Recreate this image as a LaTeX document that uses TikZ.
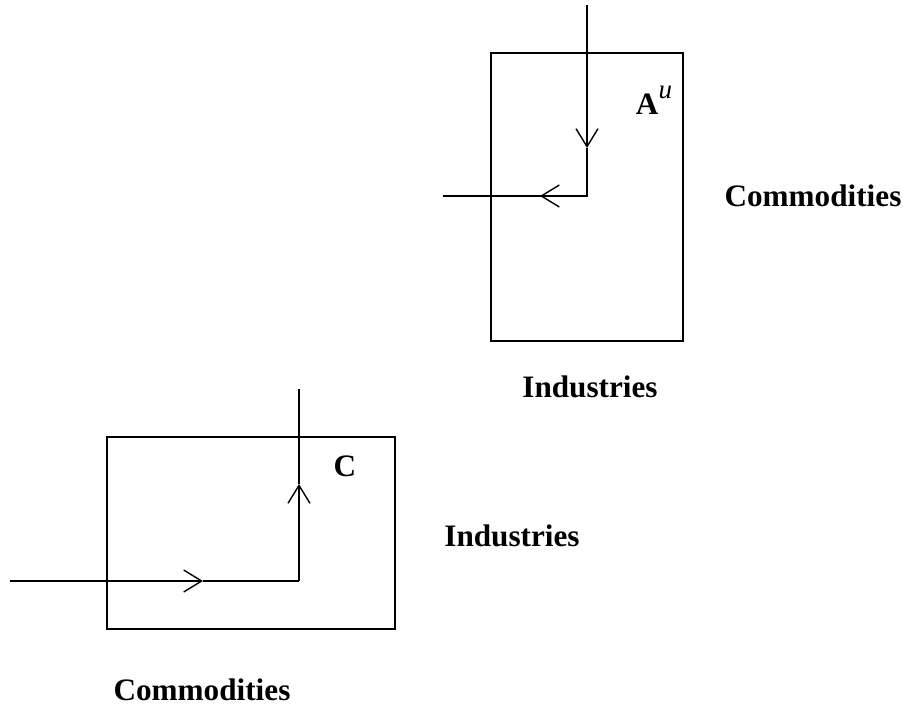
\documentclass[tikz,border=0pt]{standalone}
\usepackage{fontspec}
\setmainfont{Liberation Serif}
\usetikzlibrary{arrows.meta}
\begin{document}
\begin{tikzpicture}[x=0.5pt, y=-0.5pt, >={Straight Barb[length=9pt,width=11pt]}]
        \useasboundingbox (0,0) rectangle (914,710);
        \tikzset{
            matbox/.style={draw, line width=1.3pt, inner sep=0pt},
            flow/.style={line width=0.7pt},
            lbl/.style={font=\fontsize{15.6}{18}\selectfont\bfseries}
        }
        % upper table
        \node[matbox, minimum width=96pt, minimum height=144pt] (Aubox) at (587,197) {};
        \node[lbl] (Aulbl) at (654,100) {A\raisebox{1.1ex}{\fontsize{13.5}{14}\selectfont\mdseries\itshape u}};
        \node[lbl] (Aurows) at (813,196) {Commodities};
        \node[lbl] (Aucols) at (590,387) {Industries};
        \coordinate (Autop) at (587,5);
        \coordinate (Aumid) at (587,148);
        \coordinate (Aucorner) at (587,196);
        \coordinate (Auleft) at (540,196);
        \coordinate (Auend) at (443,196);
        \draw[flow, ->] (Autop) -- (Aumid);
        \draw[flow] (Aumid) -- (Aucorner) -- (Auleft);
        \draw[flow, ->] (Aucorner) -- (Auleft);
        \draw[flow] (Auleft) -- (Auend);
        % lower table
        \node[matbox, minimum width=144pt, minimum height=96pt] (Cbox) at (251,533) {};
        \node[lbl] (Clbl) at (345,466) {C};
        \node[lbl] (Crows) at (512,536) {Industries};
        \node[lbl] (Ccols) at (202,690) {Commodities};
        \coordinate (Cstart) at (10,581);
        \coordinate (Cmid) at (203,581);
        \coordinate (Ccorner) at (299,581);
        \coordinate (Cup) at (299,484);
        \coordinate (Ctop) at (299,389);
        \draw[flow, ->] (Cstart) -- (Cmid);
        \draw[flow] (Cmid) -- (Ccorner);
        \draw[flow, ->] (Ccorner) -- (Cup);
        \draw[flow] (Cup) -- (Ctop);
\end{tikzpicture}
\end{document}
